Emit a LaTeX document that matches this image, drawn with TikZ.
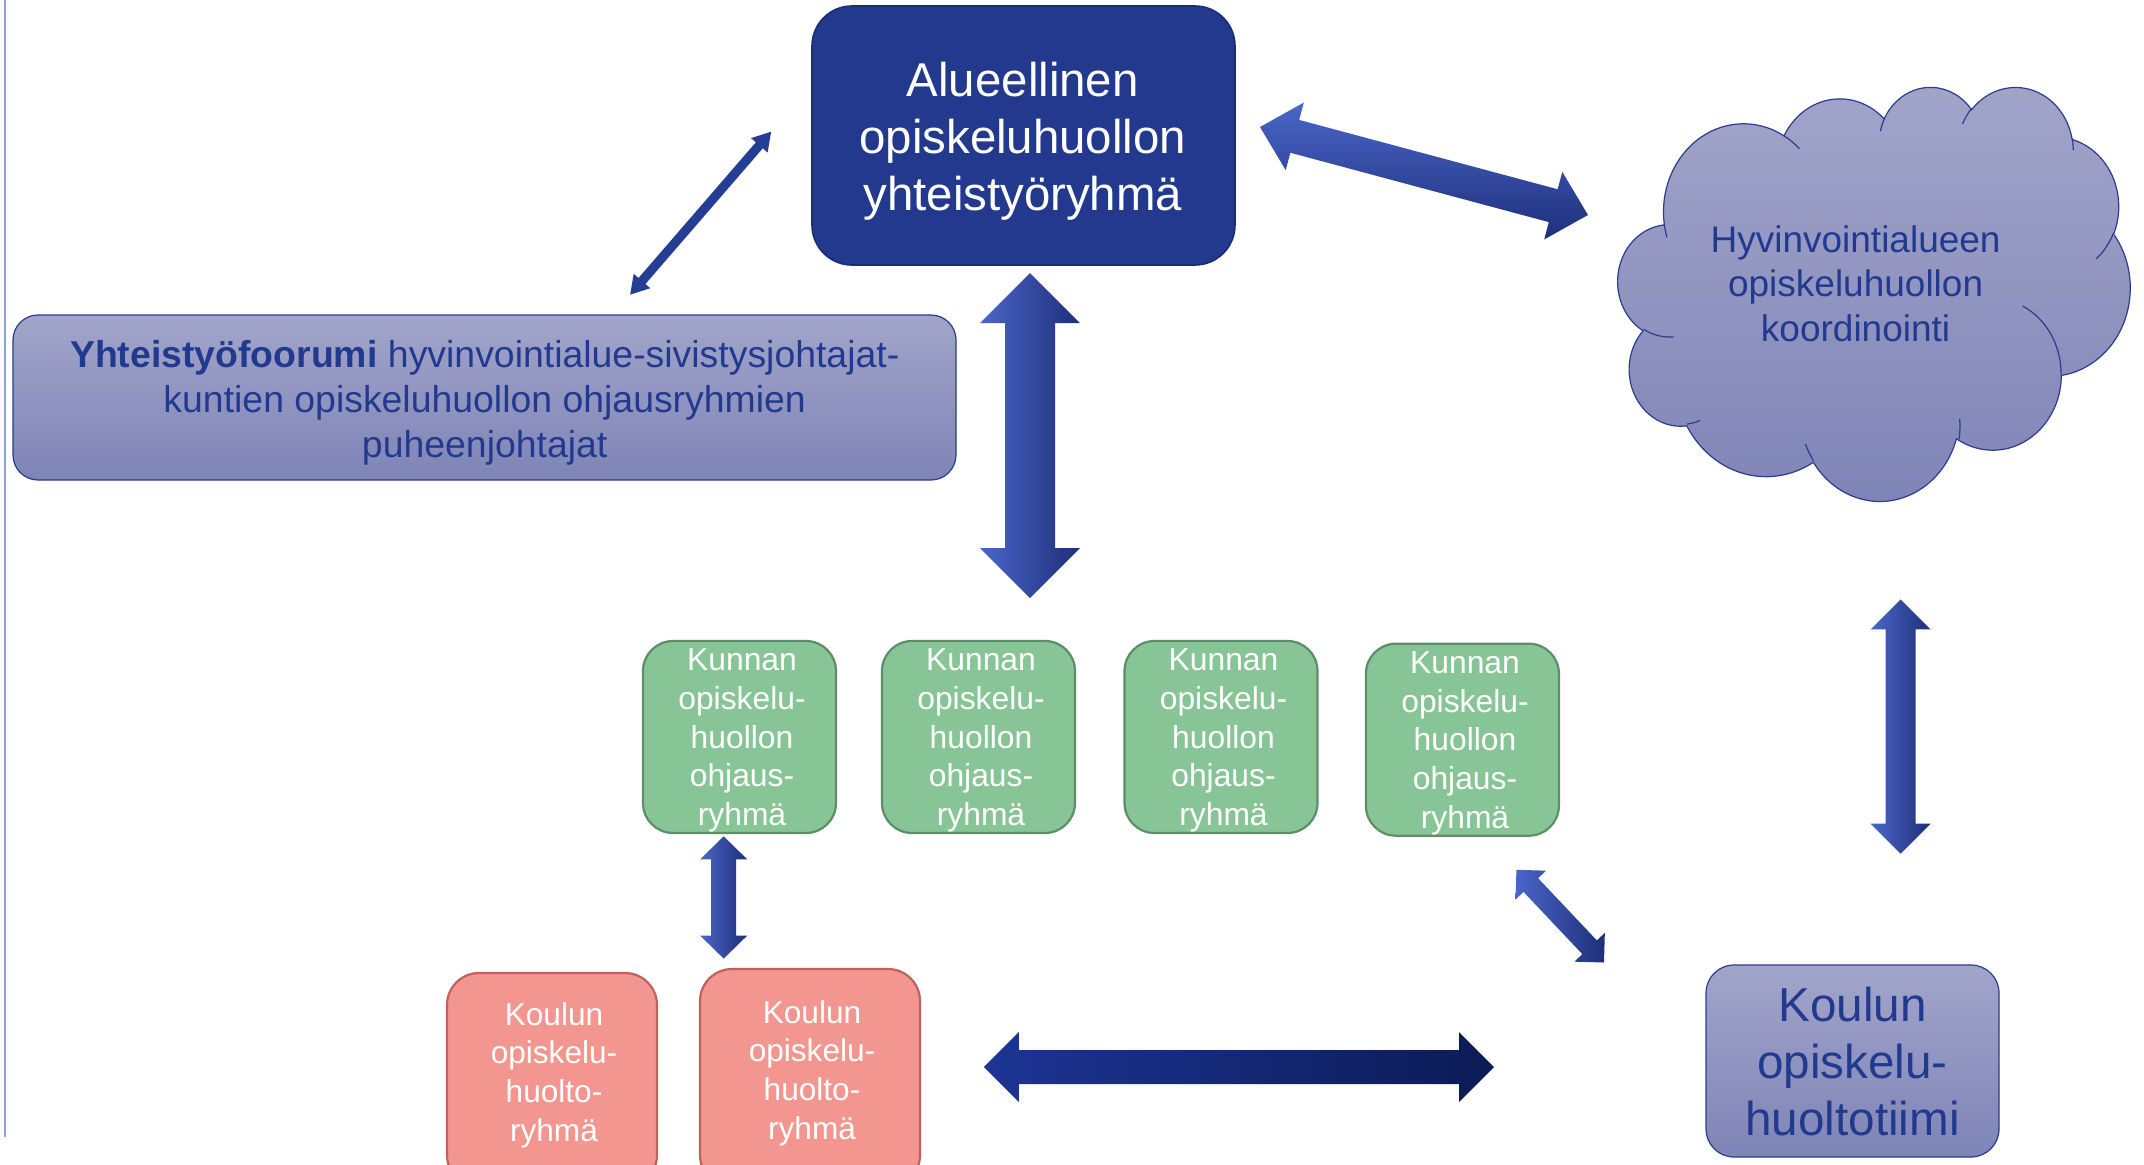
\documentclass[tikz,border=0pt]{standalone}
\usepackage{fontspec}
\setmainfont{Liberation Sans}
\usetikzlibrary{calc}
\definecolor{navy}{HTML}{22398E}
\definecolor{navyedge}{HTML}{1A2D6E}
\definecolor{txtblue}{HTML}{213A8F}
\definecolor{lavtop}{HTML}{A2A5CA}
\definecolor{lavbot}{HTML}{7E84B6}
\definecolor{lavedge}{HTML}{2B3C8E}
\definecolor{grfill}{HTML}{88C596}
\definecolor{gredge}{HTML}{5C8F68}
\definecolor{pkfill}{HTML}{F2968F}
\definecolor{pkedge}{HTML}{C0625C}
\definecolor{arlight}{HTML}{4A66C8}
\definecolor{ardark}{HTML}{1E2F7A}
\definecolor{hzlight}{HTML}{1C3595}
\definecolor{hzdark}{HTML}{0C1A55}
\definecolor{edgeline}{HTML}{8FA3E6}
\newcommand\blockarrow[6]{%
  \path[#6] let \p1=($(#2)-(#1)$), \n1={atan2(\y1,\x1)} in
    (#1) -- ($(#1)+(\n1:#5)+(\n1+90:#4)$) -- ($(#1)+(\n1:#5)+(\n1+90:#3)$)
    -- ($(#2)+(\n1+180:#5)+(\n1+90:#3)$) -- ($(#2)+(\n1+180:#5)+(\n1+90:#4)$)
    -- (#2) -- ($(#2)+(\n1+180:#5)+(\n1-90:#4)$) -- ($(#2)+(\n1+180:#5)+(\n1-90:#3)$)
    -- ($(#1)+(\n1:#5)+(\n1-90:#3)$) -- ($(#1)+(\n1:#5)+(\n1-90:#4)$) -- cycle;}
% elliptical arc given as in DrawingML: radii, start angle and sweep (visual angles)
\newcommand\ooarc[4]{arc[x radius=#1, y radius=#2,
  start angle={atan2((#1)*sin(#3),(#2)*cos(#3))},
  delta angle={mod(atan2((#1)*sin((#3)+(#4)),(#2)*cos((#3)+(#4)))-atan2((#1)*sin(#3),(#2)*cos(#3))+720,360)}]}
\tikzset{
  topbox/.style={draw=navyedge, line width=0.8pt, fill=navy, rounded corners=20pt,
    minimum width=211.5pt, minimum height=129.5pt, inner sep=0pt},
  toptext/.style={align=center, text=white, inner sep=0pt,
    font=\fontsize{23.7pt}{28.7pt}\selectfont},
  forumbox/.style={draw=lavedge, line width=0.6pt, top color=lavtop, bottom color=lavbot,
    rounded corners=12.5pt, minimum width=471.5pt, minimum height=82.5pt, inner sep=0pt},
  forumtext/.style={align=center, text=txtblue, inner sep=0pt,
    font=\fontsize{18.7pt}{22.65pt}\selectfont},
  greenbox/.style={draw=gredge, line width=1.1pt, fill=grfill, rounded corners=15pt,
    minimum width=96.5pt, minimum height=96pt, inner sep=0pt},
  greentext/.style={align=center, text=white, inner sep=0pt,
    font=\fontsize{15.9pt}{19.4pt}\selectfont},
  pinkbox/.style={draw=pkedge, line width=1.1pt, fill=pkfill, rounded corners=16pt,
    inner sep=0pt},
  pinktext/.style={align=center, text=white, inner sep=0pt,
    font=\fontsize{15.8pt}{19.3pt}\selectfont},
  teambox/.style={draw=lavedge, line width=0.6pt, top color=lavtop, bottom color=lavbot,
    rounded corners=14pt, minimum width=146.5pt, minimum height=96pt, inner sep=0pt,
    align=center, text=txtblue, font=\fontsize{23.8pt}{28.5pt}\selectfont},
  cloudfill/.style={draw=lavedge, line width=0.6pt, top color=lavtop, bottom color=lavbot},
  cloudline/.style={draw=lavedge, line width=0.6pt, fill=none},
  cloudtext/.style={align=center, text=txtblue, inner sep=0pt,
    font=\fontsize{18.5pt}{22.25pt}\selectfont},
  vshade/.style={left color=arlight, right color=ardark, draw=none},
  dshade/.style={top color=arlight, bottom color=ardark, draw=none},
  hshade/.style={left color=hzlight, right color=hzdark, draw=none},
  thinshade/.style={fill=txtblue!90!arlight, draw=none},
}
\begin{document}
\begin{tikzpicture}[x=0.5pt, y=-0.5pt]
\useasboundingbox (0,0) rectangle (2144,1164);
\clip (0,0) rectangle (2144,1164);
\fill[white] (0,0) rectangle (2144,1164);
\draw[edgeline, line width=0.8pt] (5,0) -- (5,1137);

% cloud (PowerPoint cloud outline, drawn in a 4320 x 4320 frame)
\begin{scope}[shift={(809pt,-43pt)}, x=0.0592593pt, y=-0.0479167pt]
\path[cloudfill] (390,1437)
  \ooarc{675.3}{919.0}{-190.4875}{123.7805}
  \ooarc{533.3}{726.7}{-144.1024}{89.9452}
  \ooarc{436.5}{594.5}{-145.8079}{99.7230}
  \ooarc{485.7}{659.5}{-130.9861}{117.2417}
  \ooarc{533.3}{727.3}{-78.7089}{109.0269}
  \ooarc{677.5}{922.0}{-46.2673}{130.2690}
  \ooarc{578.5}{786.7}{0.6250}{114.0333}
  \ooarc{675.2}{921.5}{22.4516}{115.1726}
  \ooarc{772.0}{1054.3}{66.2426}{75.7110}
  \ooarc{436.0}{591.8}{-274.9421}{146.7356}
  \ooarc{434.5}{594.5}{-246.8285}{152.5226} -- cycle;
\path[cloudline]
  (469.3,2617.7) \ooarc{434.5}{594.5}{86.742}{26.4295}
  (692.8,3489.9) \ooarc{436.0}{591.8}{73.6105}{11.4475}
  (1647.8,3909.0) \ooarc{675.2}{921.5}{137.6242}{14.0811}
  (2882.7,3475.1) \ooarc{675.2}{921.5}{-6.4533}{17.7022}
  (3412.9,2295.4) \ooarc{578.5}{786.7}{-70.2924}{70.9174}
  (4179.8,1535.4) \ooarc{533.3}{727.3}{30.318}{27.7515}
  (3832.4,542.6) \ooarc{485.7}{659.5}{-13.7443}{14.8589}
  (2907.8,395.2) \ooarc{485.7}{659.5}{-149.1815}{18.1954}
  (2214.1,472.0) \ooarc{436.5}{594.5}{-163.4943}{17.6864}
  (1400.0,519.2) \ooarc{675.3}{919.0}{-66.707}{12.3194}
  (412.7,1578.9) \ooarc{675.3}{919.0}{157.6544}{11.8582};
\end{scope}
\node[cloudtext] (cloudt) at (1855.6,283.3) {Hyvinvointialueen\\opiskeluhuollon\\koordinointi};

% boxes
\node[topbox] (top) at (1023.5,135.5) {};
\node[toptext] (topt) at (1022.8,141.3) {Alueellinen\\opiskeluhuollon\\yhteistyöryhmä};
\node[forumbox] (forum) at (484.5,397.5) {};
\node[forumtext] (forumt) at (484.7,403) {\textbf{Yhteistyöfoorumi} hyvinvointialue-sivistysjohtajat-\\kuntien opiskeluhuollon ohjausryhmien\\puheenjohtajat};
\node[greenbox] (g1) at (739.5,737) {};
\node[greenbox] (g2) at (978.5,737) {};
\node[greenbox] (g3) at (1221,737) {};
\node[greenbox] (g4) at (1462.4,739.7) {};
\node[greentext] (g1t) at (742,740.5) {Kunnan\\opiskelu-\\huollon\\ohjaus-\\ryhmä};
\node[greentext] (g2t) at (981,740.5) {Kunnan\\opiskelu-\\huollon\\ohjaus-\\ryhmä};
\node[greentext] (g3t) at (1223.5,740.5) {Kunnan\\opiskelu-\\huollon\\ohjaus-\\ryhmä};
\node[greentext] (g4t) at (1465,743.2) {Kunnan\\opiskelu-\\huollon\\ohjaus-\\ryhmä};
\node[pinkbox, minimum width=105pt, minimum height=107pt] (p1) at (552,1080) {};
\node[pinktext] (p1t) at (554,1075) {Koulun\\opiskelu-\\huolto-\\ryhmä};
\node[pinkbox, minimum width=110pt, minimum height=109pt] (p2) at (810,1078) {};
\node[pinktext] (p2t) at (812,1073) {Koulun\\opiskelu-\\huolto-\\ryhmä};
\node[teambox] (team) at (1852.5,1061) {Koulun\\opiskelu-\\huoltotiimi};

% arrow end points
\coordinate (a1s) at (630.2,294.6); \coordinate (a1e) at (771.1,131.7);
\coordinate (a2s) at (1260,127);    \coordinate (a2e) at (1588,215);
\coordinate (a3s) at (1030,273);    \coordinate (a3e) at (1030,598);
\coordinate (a4s) at (1900.6,599.4); \coordinate (a4e) at (1900.6,853.7);
\coordinate (a5s) at (1516.4,869.8); \coordinate (a5e) at (1604,962.5);
\coordinate (a6s) at (723.7,836.3); \coordinate (a6e) at (723.7,958.6);
\coordinate (a7s) at (983.8,1067);  \coordinate (a7e) at (1494,1067);

\blockarrow{a1s}{a1e}{2.3pt}{5.5pt}{9pt}{thinshade}
\blockarrow{a2s}{a2e}{8.5pt}{17.5pt}{18pt}{dshade}
\blockarrow{a3s}{a3e}{12.5pt}{25pt}{25pt}{vshade}
\blockarrow{a4s}{a4e}{7.5pt}{15pt}{15pt}{vshade}
\blockarrow{a5s}{a5e}{5pt}{10.5pt}{10.5pt}{vshade}
\blockarrow{a6s}{a6e}{6.25pt}{11.75pt}{11.5pt}{vshade}
\blockarrow{a7s}{a7e}{8.5pt}{17.5pt}{17.5pt}{hshade}
\end{tikzpicture}
\end{document}
